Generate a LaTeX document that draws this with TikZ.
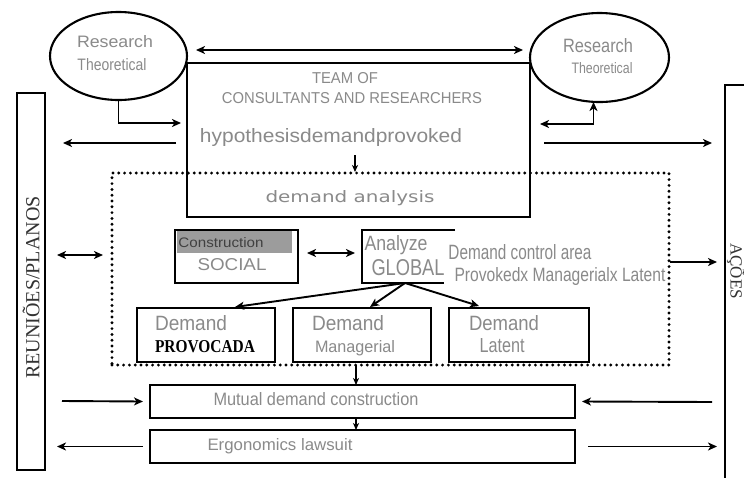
\documentclass[tikz,border=0pt]{standalone}
\usepackage{fontspec}
\setmainfont{Liberation Sans}
\newfontfamily\seriffont{Liberation Serif}
\newfontfamily\widefont{DejaVu Sans}
\usepackage{graphicx}
\usetikzlibrary{shapes.geometric,arrows.meta}
\definecolor{txtgray}{HTML}{8A8A8A}
\definecolor{hdrgray}{HTML}{9C9C9C}
\newcommand\fitt[3]{\resizebox{#1pt}{#2pt}{#3}}
\begin{document}
\begin{tikzpicture}[x=1pt,y=-1pt,
  every node/.style={inner sep=0pt,outer sep=0pt},
  frame/.style={draw,line width=2.1pt},
  arr/.style={line width=1.9pt,-{Stealth[length=9pt,width=8pt,inset=2.5pt]}},
  darr/.style={line width=1.9pt,{Stealth[length=9pt,width=8pt,inset=2.5pt]}-{Stealth[length=9pt,width=8pt,inset=2.5pt]}},
  sarr/.style={line width=1.6pt,-{Stealth[length=7pt,width=6pt,inset=2pt]}},
  gtxt/.style={text=txtgray,anchor=base},
]
\clip (0,0) rectangle (744,477);
\fill[white] (0,0) rectangle (744,477);

% main shapes
\node[ellipse,frame,minimum width=137pt,minimum height=88pt] (rl) at (118.5,56) {};
\node[ellipse,frame,minimum width=139pt,minimum height=89pt] (rr) at (599.5,57.5) {};
\node[frame,minimum width=343pt,minimum height=154pt,anchor=north west] (team) at (187,63) {};
\node[draw,line width=3.2pt,dash pattern=on 0pt off 5.8pt,line cap=round,minimum width=557pt,minimum height=192pt,anchor=north west] (ana) at (112,173) {};
\node[frame,minimum width=28pt,minimum height=377pt,anchor=north west] (reun) at (17,93) {};
\node[frame,minimum width=80pt,minimum height=420pt,anchor=north west] (acoes) at (725,85) {};

\node[frame,minimum width=123pt,minimum height=53pt,anchor=north west] (soc) at (175,230) {};
\fill[hdrgray] ([xshift=2pt,yshift=-1pt]soc.north west) rectangle ([xshift=-6pt,yshift=-23pt]soc.north east);
\node[minimum width=90pt,minimum height=53pt,anchor=north west] (glob) at (362,230) {};
\draw[line width=2.1pt] ([xshift=3pt]glob.north east) -- (glob.north west) -- (glob.south west) -- ([xshift=-8pt]glob.south east);

\node[frame,minimum width=138pt,minimum height=54pt,anchor=north west] (d1) at (137,308) {};
\node[frame,minimum width=138pt,minimum height=54pt,anchor=north west] (d2) at (293,308) {};
\node[frame,minimum width=140pt,minimum height=54pt,anchor=north west] (d3) at (449,308) {};
\node[frame,minimum width=425pt,minimum height=33pt,anchor=north west] (mut) at (150,385) {};
\node[frame,minimum width=425pt,minimum height=33pt,anchor=north west] (erg) at (150,430) {};

% texts
\node[gtxt] at (115,47) {\fitt{76}{12}{Research}};
\node[gtxt] at (112,70) {\fitt{69}{12}{Theoretical}};
\node[gtxt] at (598,52) {\fitt{70}{14}{Research}};
\node[gtxt] at (602,73) {\fitt{61}{11}{Theoretical}};
\node[gtxt] at (345,83) {\fitt{66}{11}{TEAM OF}};
\node[gtxt] at (352,103) {\fitt{260}{11}{CONSULTANTS AND RESEARCHERS}};
\node[gtxt] at (331,142) {\fitt{262}{14}{hypothesisdemandprovoked}};
\node[gtxt] at (350,202) {\fitt{169}{12}{\widefont demand analysis}};
\node[anchor=base,text=black!75] at (221,247) {\fitt{85}{10}{Construction}};
\node[gtxt] at (232,270) {\fitt{69}{12}{SOCIAL}};
\node[gtxt] at (396,250) {\fitt{63}{15}{Analyze}};
\node[gtxt] at (408,275) {\fitt{73}{16}{GLOBAL}};
\node[gtxt] at (520,259) {\fitt{143}{15}{Demand control area}};
\node[gtxt] at (560,281) {\fitt{211}{14}{Provokedx Managerialx Latent}};
\node[gtxt,anchor=base west] at (155,330) {\fitt{72}{15}{Demand}};
\node[anchor=base west] at (155,352) {\fitt{100}{12}{\seriffont\bfseries PROVOCADA}};
\node[gtxt,anchor=base west] at (312,330) {\fitt{72}{15}{Demand}};
\node[gtxt,anchor=base west] at (315,352) {\fitt{80}{12}{Managerial}};
\node[gtxt] at (504,330) {\fitt{70}{15}{Demand}};
\node[gtxt] at (502,352) {\fitt{45}{14}{Latent}};
\node[gtxt] at (316,405) {\fitt{205}{13}{Mutual demand construction}};
\node[gtxt] at (280,450) {\fitt{145}{12}{Ergonomics lawsuit}};
\node[rotate=90,text=black!80,font=\seriffont\fontsize{20}{20}\selectfont] at ([yshift=-6pt]reun.center) {REUNIÕES/PLANOS};
\node[rotate=-90,text=black!80,font=\seriffont\fontsize{17}{17}\selectfont] at (736,271) {AÇÕES};

% connectors
\draw[darr] ([xshift=9pt,yshift=6pt]rl.east) -- ([xshift=-7pt,yshift=7.5pt]rr.west);
\draw[arr] (rl.south) |- ([xshift=-6pt,yshift=-60pt]team.north west);
\draw[arr] ([xshift=-11pt,yshift=-80pt]team.north west) -- ([xshift=18pt,yshift=138.5pt]reun.east);
\draw[darr] ([xshift=-6pt]rr.south) |- ([xshift=10pt,yshift=-61pt]team.north east);
\draw[arr] ([xshift=14pt,yshift=-80pt]team.north east) -- ([xshift=-13pt,yshift=152pt]acoes.west);
\draw[sarr] ([xshift=168pt,yshift=-92pt]team.north west) -- ([xshift=243pt,yshift=1pt]ana.north west);
\draw[darr] ([xshift=12pt,yshift=26.5pt]reun.east) -- ([xshift=-9pt,yshift=14pt]ana.west);
\draw[darr] ([xshift=9pt,yshift=3.5pt]soc.east) -- ([xshift=-7pt,yshift=3.5pt]glob.west);
\draw[arr] ([xshift=1pt,yshift=7pt]ana.east) -- ([xshift=-8pt,yshift=33pt]acoes.west);
\draw[arr] ([xshift=-2pt]glob.south) -- ([xshift=29pt,yshift=1pt]d1.north);
\draw[arr] ([xshift=-2pt]glob.south) -- ([xshift=8pt,yshift=1pt]d2.north);
\draw[arr] ([xshift=-2pt]glob.south) -- ([xshift=-40pt,yshift=2pt]d3.north);
\draw[sarr] ([xshift=-34.5pt]ana.south) -- ([xshift=-6.5pt]mut.north);
\draw[sarr] ([xshift=-6.5pt]mut.south) -- ([xshift=-6.5pt]erg.north);
\draw[arr] ([xshift=17pt,yshift=-119.5pt]reun.east) -- ([xshift=-7pt]mut.west);
\draw[arr] ([xshift=-13pt,yshift=-107pt]acoes.west) -- ([xshift=7pt]mut.east);
\draw[arr] ([xshift=-7pt]erg.west) -- ([xshift=12pt,yshift=-165pt]reun.east);
\draw[arr] ([xshift=13pt]erg.east) -- ([xshift=-8pt,yshift=-151.5pt]acoes.west);
\end{tikzpicture}
\end{document}
